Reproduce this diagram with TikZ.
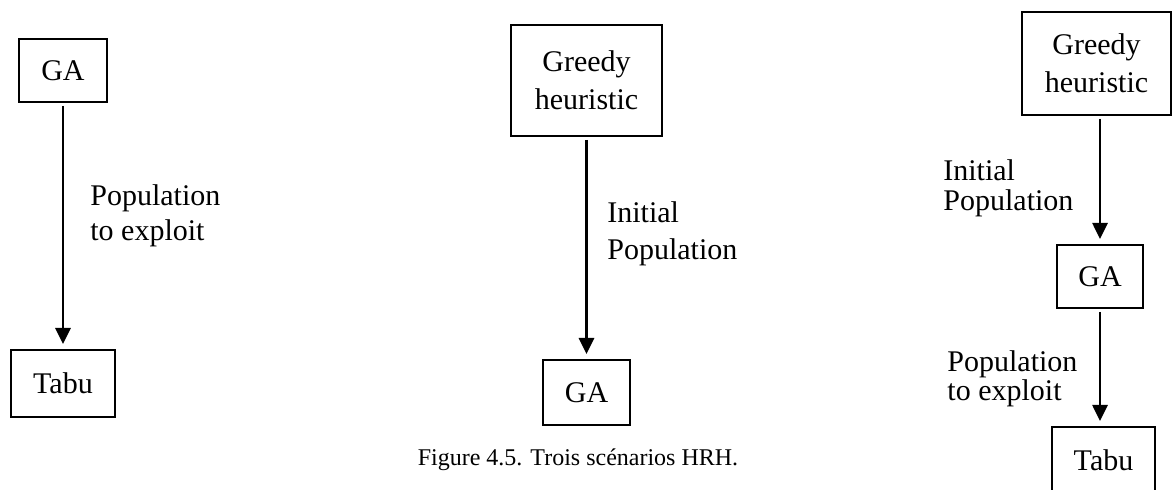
\documentclass[tikz,border=0pt]{standalone}
\usepackage{fontspec}
\setmainfont{Liberation Serif}
\usetikzlibrary{
  arrows.meta,
  positioning
}
\tikzset{
  hrhbox/.style={
    draw, line width=1pt, inner sep=0pt, align=center,
    font=\fontsize{15}{19}\selectfont
  },
  popflow/.style={-{Triangle[width=7.5pt,length=8pt]}, line width=1.35pt,
    shorten <=1.5pt, shorten >=2.5pt},
  tag/.style={anchor=west, inner sep=0pt, align=left, font=\fontsize{15}{18}\selectfont},
  caption/.style={inner sep=0pt, font=\fontsize{12}{14}\selectfont}
}

\begin{document}
\begin{tikzpicture}[x=0.5pt, y=-0.5pt, node distance=10mm]
  \useasboundingbox (0,0) rectangle (1172,490);

  % scenario 1: GA then Tabu
  \node[hrhbox, minimum width=44pt, minimum height=31.5pt] (ga1) at (63,70.5) {GA};
  \node[hrhbox, minimum width=52pt, minimum height=33.5pt, below=123pt of ga1] (tabu1) {Tabu};
  \draw[popflow] (ga1.south) -- (tabu1.north);
  \node[tag, font=\fontsize{15}{17.5}\selectfont] (lbl1) at (90,216) {Population\\to exploit};

  % scenario 2: greedy heuristic then GA
  \node[hrhbox, minimum width=75.5pt, minimum height=55.5pt] (greedy2) at (586.5,80.5) {Greedy\\heuristic};
  \node[hrhbox, minimum width=43.5pt, minimum height=32.5pt, below=111pt of greedy2] (ga2) {GA};
  \draw[popflow] (greedy2.south) -- (ga2.north);
  \node[tag, font=\fontsize{15}{18.5}\selectfont] (lbl2) at (607,234) {Initial\\Population};

  \node[caption] (cap) at (578,460) {Figure 4.5. Trois scénarios HRH.};

  % scenario 3: greedy heuristic, GA, then Tabu
  \node[hrhbox, minimum width=74.5pt, minimum height=51.5pt] (greedy3) at (1096.5,63.5) {Greedy\\heuristic};
  \node[hrhbox, minimum width=43pt, minimum height=31.5pt, below=64pt of greedy3, xshift=1.75pt] (ga3) {GA};
  \node[hrhbox, minimum width=51.5pt, minimum height=33.5pt, below=58.5pt of ga3, xshift=1.75pt] (tabu3) {Tabu};
  \draw[popflow] (ga3.north |- greedy3.south) -- (ga3.north);
  \draw[popflow] (ga3.south) -- (ga3.south |- tabu3.north);
  \node[tag, font=\fontsize{15}{15}\selectfont] (lbl3a) at (943,188) {Initial\\Population};
  \node[tag, font=\fontsize{15}{13.5}\selectfont] (lbl3b) at (947,379) {Population\\to exploit};
\end{tikzpicture}
\end{document}
